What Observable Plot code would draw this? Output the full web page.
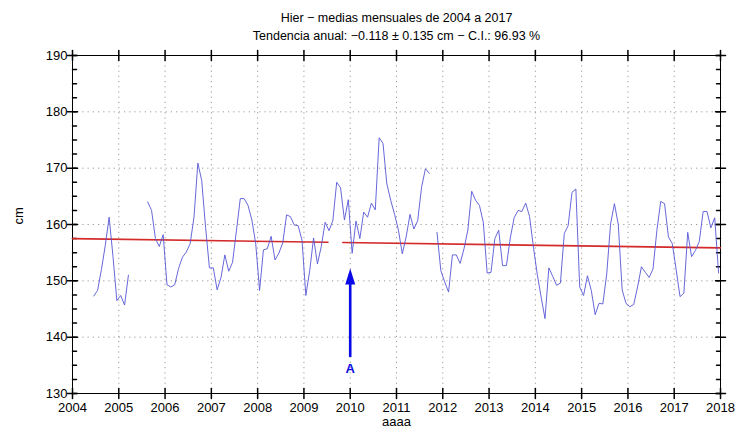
<!DOCTYPE html>
<html>
<head>
<meta charset="utf-8">
<script src="https://cdn.jsdelivr.net/npm/d3@7"></script>
<script src="https://cdn.jsdelivr.net/npm/@observablehq/plot@0.6"></script>
<style>
  body { margin: 0; background: #fff; }
</style>
</head>
<body>
<div id="chart"></div>
<script>
// ---- data (monthly means, cm), first value = June 2004, null = missing month ----
const startYear = 2004;
const startMonth = 6;
const values = [
  // 2004 Jun-Dec
  147.3, 148.3, 152.0, 156.3, 161.3, 154.3, 146.5,
  // 2005
  147.4, 145.7, 151.0, null, null, null, null, 164.0, 162.5, 157.5, 156.1, 158.2,
  // 2006
  149.3, 148.9, 149.3, 152.2, 154.2, 155.1, 156.6, 161.3, 170.9, 167.8, 159.5, 152.3,
  // 2007
  152.3, 148.4, 150.6, 154.6, 151.7, 153.3, 158.9, 164.6, 164.6, 163.4, 160.8, 156.6,
  // 2008
  148.3, 155.5, 155.7, 157.9, 153.7, 154.9, 156.7, 161.7, 161.4, 159.9, 159.8, 157.2,
  // 2009
  147.4, 151.8, 157.6, 153.0, 156.1, 160.4, 158.9, 160.7, 167.5, 166.5, 160.8, 164.4,
  // 2010
  154.9, 160.6, 157.5, 162.2, 161.3, 163.8, 162.6, 175.4, 174.4, 167.2, 164.3, 161.8,
  // 2011
  159.0, 154.8, 157.8, 161.8, 159.2, 160.7, 166.6, 169.9, 169.1, null, 158.6, 151.8,
  // 2012
  149.8, 148.0, 154.6, 154.6, 153.1, 155.7, 159.0, 165.9, 164.3, 163.4, 160.4, 151.4,
  // 2013
  151.5, 157.5, 159.0, 152.7, 152.7, 157.6, 161.2, 162.5, 162.3, 163.8, 161.4, 156.0,
  // 2014
  151.1, 147.1, 143.3, 152.3, 150.8, 149.2, 149.6, 158.4, 159.8, 165.7, 166.3, 148.9,
  // 2015
  147.4, 150.9, 148.3, 144.0, 146.0, 145.9, 151.2, 160.1, 163.7, 160.0, 148.4, 146.0,
  // 2016
  145.4, 145.8, 148.9, 152.5, 151.5, 150.6, 152.1, 158.9, 164.1, 163.7, 157.8, 156.6,
  // 2017
  152.0, 147.2, 147.8, 158.6, 154.3, 155.4, 157.0, 162.3, 162.3, 159.4, 161.2, 151.4
];

const yearTicks = [2004, 2005, 2006, 2007, 2008, 2009, 2010, 2011, 2012, 2013, 2014, 2015, 2016, 2017, 2018];
const yTicks = [130, 140, 150, 160, 170, 180, 190];
const yMinorTicks = d3.range(130, 190.01, 2.5);

// linear trend: value at 2004.0 and annual slope
const trendStart = 157.5;
const trendSlope = -0.118;
const trendSegments = [[2004, 2009.52], [2009.84, 2018]];

// marker arrow "A"
const arrowX = [2010];
const arrowBase = 136.4;
const arrowTip = 152.2;
const arrowLabelY = 134.3;
const arrowLabel = "A";

const titleText = "Hier \u2212 medias mensuales de 2004 a 2017";
const subtitleText = "Tendencia anual: \u22120.118 \u00b1 0.135 cm \u2212 C.I.: 96.93 %";
const xLabel = "aaaa";
const yLabel = "cm";

// ---- derived tables ----
const series = values.map((v, i) => ({t: startYear + (startMonth - 1 + i + 0.5) / 12, v}));
const trend = trendSegments.flatMap(([a, b], s) =>
  [a, b].map(t => ({t, v: trendStart + trendSlope * (t - startYear), s})));

const tickShape = {draw(context, l) { context.moveTo(0, 0); context.lineTo(0, -l); }};
const headSymbol = {draw(context) {
  context.moveTo(0, 0); context.lineTo(-5, 16); context.lineTo(5, 16); context.closePath();
}};

const font = "'Liberation Sans', Arial, sans-serif";

const chart = Plot.plot({
  width: 737,
  height: 434,
  marginLeft: 72,
  marginRight: 17,
  marginTop: 55,
  marginBottom: 41,
  style: {fontFamily: font, fontSize: "13px", background: "#fff", color: "#000"},
  x: {domain: [2004, 2018]},
  y: {domain: [130, 190]},
  marks: [
    Plot.gridX(yearTicks, {stroke: "#9a9a9a", strokeOpacity: 1, strokeDasharray: "1.2,4"}),
    Plot.gridY(yTicks, {stroke: "#9a9a9a", strokeOpacity: 1, strokeDasharray: "1.2,4"}),
    Plot.frame({stroke: "#000", strokeWidth: 1}),
    // minor ticks (inward)
    Plot.vector(yMinorTicks, {y: d => d, frameAnchor: "left", length: 4, rotate: 90, anchor: "start", shape: tickShape, stroke: "#000"}),
    Plot.vector(yMinorTicks, {y: d => d, frameAnchor: "right", length: 4, rotate: -90, anchor: "start", shape: tickShape, stroke: "#000"}),
    // major ticks (crossing)
    Plot.vector(yTicks, {y: d => d, frameAnchor: "left", length: 10, rotate: 90, anchor: "middle", shape: tickShape, stroke: "#000"}),
    Plot.vector(yTicks, {y: d => d, frameAnchor: "right", length: 10, rotate: 90, anchor: "middle", shape: tickShape, stroke: "#000"}),
    Plot.vector(yearTicks, {x: d => d, frameAnchor: "top", length: 10, rotate: 0, anchor: "middle", shape: tickShape, stroke: "#000"}),
    Plot.vector(yearTicks, {x: d => d, frameAnchor: "bottom", length: 10, rotate: 0, anchor: "middle", shape: tickShape, stroke: "#000"}),
    // axis labels
    Plot.axisX({ticks: yearTicks, tickFormat: d => String(d), tickSize: 0, tickPadding: 9, label: null}),
    Plot.axisY({ticks: yTicks, tickFormat: d => String(d), tickSize: 0, tickPadding: 5, label: null}),
    // data
    Plot.line(trend, {x: "t", y: "v", z: "s", stroke: "#d42a2a", strokeWidth: 1.6}),
    Plot.line(series, {x: "t", y: "v", stroke: "#5656d6", strokeWidth: 0.9}),
    // arrow
    Plot.ruleX(arrowX, {y1: arrowBase, y2: arrowTip - 1, stroke: "#0a0ae6", strokeWidth: 2.6}),
    Plot.dot(arrowX, {x: d => d, y: arrowTip, symbol: headSymbol, fill: "#0a0ae6", stroke: "none"}),
    Plot.text(arrowX, {x: d => d, y: arrowLabelY, text: () => arrowLabel, fill: "#0a0ae6", fontSize: 13, fontWeight: "bold"}),
    // titles
    Plot.text([titleText], {frameAnchor: "top", dy: -42, text: d => d, fontSize: 12.5, fill: "#000"}),
    Plot.text([subtitleText], {frameAnchor: "top", dy: -24, text: d => d, fontSize: 12.5, fill: "#000"}),
    Plot.text([xLabel], {frameAnchor: "bottom", dy: 32, text: d => d, fontSize: 13, fill: "#000"}),
    Plot.text([yLabel], {frameAnchor: "left", dx: -54, rotate: -90, text: d => d, fontSize: 13, fill: "#000"})
  ]
});
document.getElementById("chart").appendChild(chart);
</script>
</body>
</html>
